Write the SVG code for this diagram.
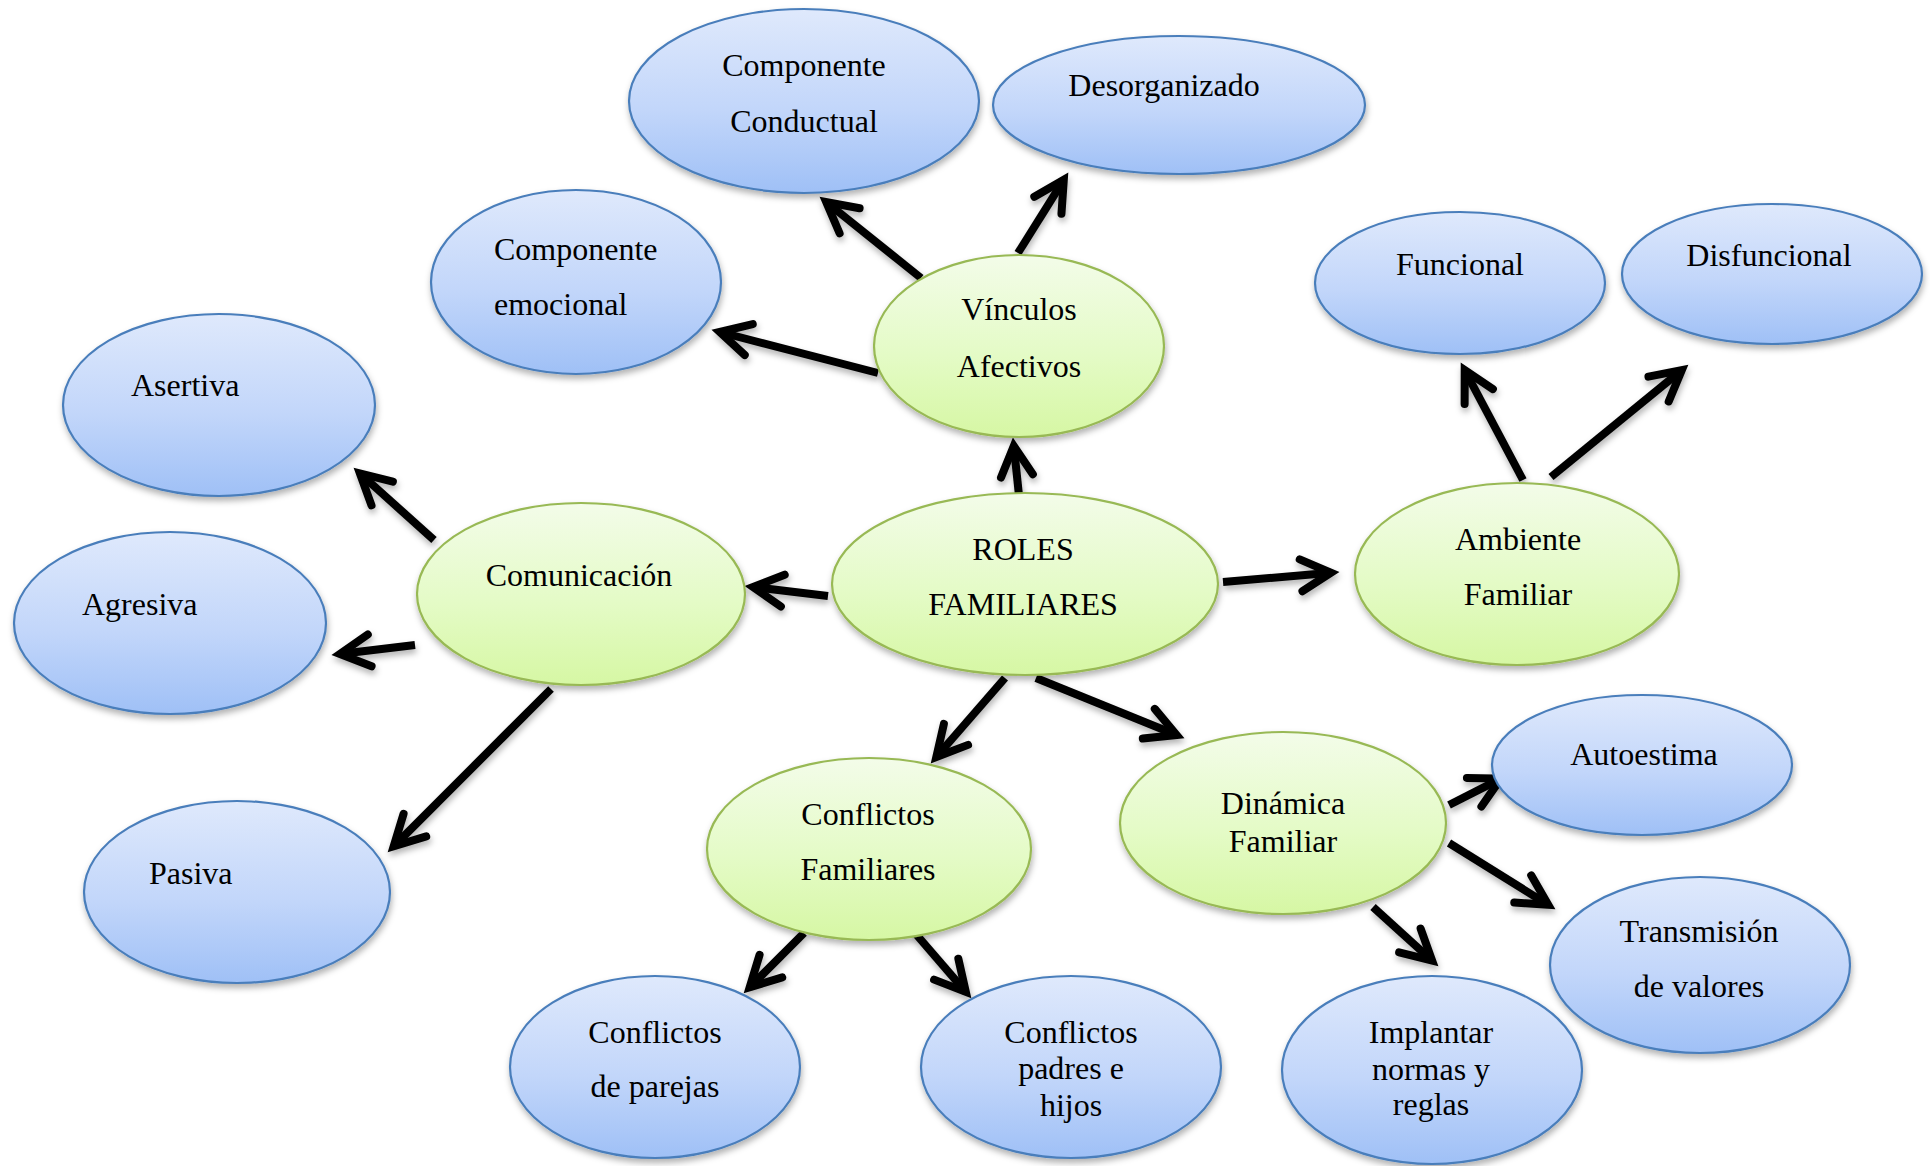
<svg xmlns="http://www.w3.org/2000/svg" width="1930" height="1166" viewBox="0 0 1930 1166">
<defs>
<linearGradient id="gBlue" x1="0" y1="0" x2="0" y2="1">
<stop offset="0" stop-color="#dfe9fc"/>
<stop offset="0.55" stop-color="#c2d6fa"/>
<stop offset="1" stop-color="#9fc0f6"/>
</linearGradient>
<linearGradient id="gGreen" x1="0" y1="0" x2="0" y2="1">
<stop offset="0" stop-color="#f3fce9"/>
<stop offset="0.55" stop-color="#e4fbc6"/>
<stop offset="1" stop-color="#d6f7a4"/>
</linearGradient>
<filter id="sh" x="-10%" y="-10%" width="125%" height="130%">
<feDropShadow dx="1" dy="4" stdDeviation="3" flood-color="#000" flood-opacity="0.3"/>
</filter>
<marker id="arr" markerUnits="userSpaceOnUse" orient="auto" refX="0" refY="0" markerWidth="60" markerHeight="60" viewBox="-40 -30 60 60" overflow="visible">
<path d="M -30,-16 L 0,0 L -30,16" fill="none" stroke="#000" stroke-width="8" stroke-linecap="round" stroke-linejoin="miter" stroke-miterlimit="10"/>
</marker>
</defs>
<style>
.blue{fill:url(#gBlue);stroke:#4a7ebb;stroke-width:2.2;filter:url(#sh)}
.green{fill:url(#gGreen);stroke:#98b954;stroke-width:2.2;filter:url(#sh)}
text{font-family:"Liberation Serif","Times New Roman",serif;font-size:32px;fill:#000}
.c{text-anchor:middle}
.l{text-anchor:start}
.arrows line{stroke:#000;stroke-width:8;marker-end:url(#arr)}
.arrows{filter:url(#sh)}
</style>
<rect width="1930" height="1166" fill="#fff"/>

<g class="arrows" id="connectors">
<line x1="1020" y1="505" x2="1013.8" y2="446"/>
<line x1="828" y1="596" x2="753" y2="587"/>
<line x1="1223" y1="582" x2="1331" y2="572.7"/>
<line x1="1005" y1="678" x2="936.3" y2="757"/>
<line x1="1036" y1="678" x2="1176.6" y2="735"/>
<line x1="921" y1="278" x2="826.2" y2="202"/>
<line x1="1018" y1="253" x2="1063.8" y2="179.8"/>
<line x1="878" y1="373" x2="719.7" y2="332"/>
<line x1="434" y1="540" x2="359.9" y2="473.4"/>
<line x1="415" y1="645" x2="339.9" y2="654"/>
<line x1="551" y1="689" x2="393.7" y2="846.3"/>
<line x1="1523" y1="480" x2="1464.7" y2="370.1"/>
<line x1="1551" y1="477" x2="1681.8" y2="370.1"/>
<line x1="1449" y1="805" x2="1500.9" y2="778.6"/>
<line x1="1449" y1="843" x2="1548.2" y2="904.8"/>
<line x1="1373" y1="907" x2="1432.1" y2="960.6"/>
<line x1="804" y1="933" x2="749.7" y2="987.3"/>
<line x1="915" y1="933" x2="965.8" y2="991.9"/>
</g>

<g id="roles"><ellipse class="green" cx="1025" cy="584" rx="193" ry="91"/><text class="c" x="1023" y="560">ROLES</text><text class="c" x="1023" y="615">FAMILIARES</text></g>
<g id="vinculos"><ellipse class="green" cx="1019" cy="346" rx="145" ry="91"/><text class="c" x="1019" y="320">Vínculos</text><text class="c" x="1019" y="377">Afectivos</text></g>
<g id="comunicacion"><ellipse class="green" cx="581" cy="594" rx="164" ry="91"/><text class="c" x="579" y="586">Comunicación</text></g>
<g id="ambiente"><ellipse class="green" cx="1517" cy="574" rx="162" ry="91"/><text class="c" x="1518" y="550">Ambiente</text><text class="c" x="1518" y="605">Familiar</text></g>
<g id="conflictos-familiares"><ellipse class="green" cx="869" cy="849" rx="162" ry="91"/><text class="c" x="868" y="825">Conflictos</text><text class="c" x="868" y="880">Familiares</text></g>
<g id="dinamica"><ellipse class="green" cx="1283" cy="823" rx="163" ry="91"/><text class="c" x="1283" y="814">Dinámica</text><text class="c" x="1283" y="852">Familiar</text></g>

<g id="componente-conductual"><ellipse class="blue" cx="804" cy="101" rx="175" ry="92"/><text class="c" x="804" y="76">Componente</text><text class="c" x="804" y="132">Conductual</text></g>
<g id="desorganizado"><ellipse class="blue" cx="1179" cy="105" rx="186" ry="69"/><text class="c" x="1164" y="96">Desorganizado</text></g>
<g id="componente-emocional"><ellipse class="blue" cx="576" cy="282" rx="145" ry="92"/><text class="l" x="494" y="260">Componente</text><text class="l" x="494" y="315">emocional</text></g>
<g id="asertiva"><ellipse class="blue" cx="219" cy="405" rx="156" ry="91"/><text class="l" x="131" y="396">Asertiva</text></g>
<g id="agresiva"><ellipse class="blue" cx="170" cy="623" rx="156" ry="91"/><text class="l" x="82" y="615">Agresiva</text></g>
<g id="pasiva"><ellipse class="blue" cx="237" cy="892" rx="153" ry="91"/><text class="l" x="149" y="884">Pasiva</text></g>
<g id="funcional"><ellipse class="blue" cx="1460" cy="283" rx="145" ry="71"/><text class="c" x="1460" y="275">Funcional</text></g>
<g id="disfuncional"><ellipse class="blue" cx="1772" cy="274" rx="150" ry="70"/><text class="c" x="1769" y="266">Disfuncional</text></g>
<g id="autoestima"><ellipse class="blue" cx="1642" cy="765" rx="150" ry="70"/><text class="c" x="1644" y="765">Autoestima</text></g>
<g id="transmision"><ellipse class="blue" cx="1700" cy="965" rx="150" ry="88"/><text class="c" x="1699" y="942">Transmisión</text><text class="c" x="1699" y="997">de valores</text></g>
<g id="implantar"><ellipse class="blue" cx="1432" cy="1070" rx="150" ry="94"/><text class="c" x="1431" y="1043">Implantar</text><text class="c" x="1431" y="1080">normas y</text><text class="c" x="1431" y="1115">reglas</text></g>
<g id="parejas"><ellipse class="blue" cx="655" cy="1067" rx="145" ry="91"/><text class="c" x="655" y="1043">Conflictos</text><text class="c" x="655" y="1097">de parejas</text></g>
<g id="padres"><ellipse class="blue" cx="1071" cy="1067" rx="150" ry="91"/><text class="c" x="1071" y="1043">Conflictos</text><text class="c" x="1071" y="1079">padres e</text><text class="c" x="1071" y="1116">hijos</text></g>
</svg>
